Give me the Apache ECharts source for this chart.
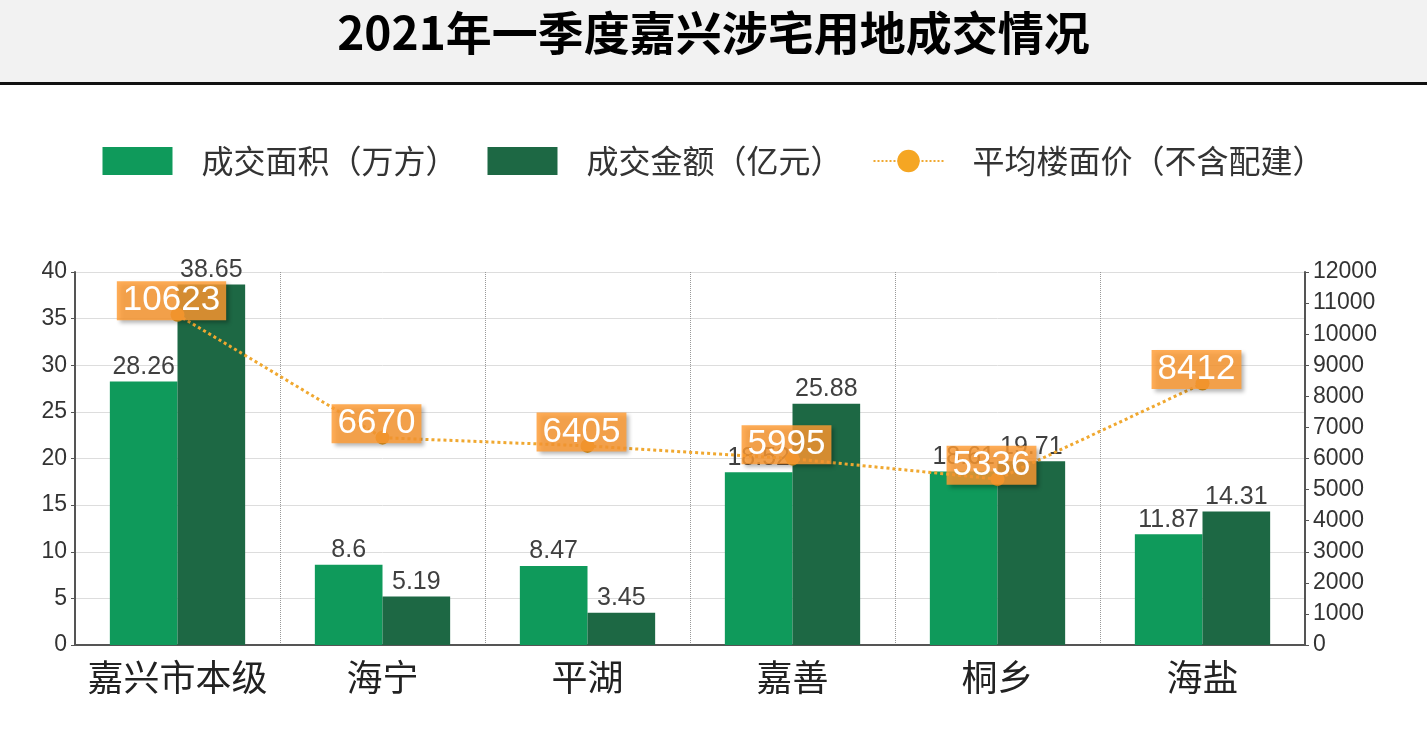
<!DOCTYPE html>
<html><head><meta charset="utf-8">
<script src="https://cdn.jsdelivr.net/npm/echarts@6/dist/echarts.min.js"></script>
<style>html,body{margin:0;padding:0;background:#fff}#c{width:1427px;height:730px}</style>
</head><body><div id="c"></div>
<script>
const categories=['嘉兴市本级','海宁','平湖','嘉善','桐乡','海盐'];
const area=[28.26,8.6,8.47,18.52,18.61,11.87];
const amount=[38.65,5.19,3.45,25.88,19.71,14.31];
const price=[10623,6670,6405,5995,5336,8412];
const chart=echarts.init(document.getElementById('c'));
const lab={show:true,position:'top',color:'#404040',fontSize:25,fontFamily:'"Liberation Sans", Arial',distance:2};
chart.setOption({
  animation:false,
  graphic:[
    {type:'rect',shape:{x:0,y:0,width:1427,height:82},style:{fill:'#f2f2f2'}},
    {type:'rect',shape:{x:0,y:82,width:1427,height:3},style:{fill:'#111'}},
    {type:'text',left:'center',top:10,style:{text:'2021年一季度嘉兴涉宅用地成交情况',font:'bold 46px "Noto Sans CJK SC", Arial',fill:'#000'}}
  ],
  legend:{top:140,left:'center',itemWidth:70,itemHeight:28,itemGap:30,
    textStyle:{fontSize:32,color:'#333',fontFamily:'"Noto Sans CJK SC"',padding:[0,0,0,24]},
    data:[{name:'成交面积（万方）',icon:'rect'},{name:'成交金额（亿元）',icon:'rect'},{name:'平均楼面价（不含配建）'}]},
  grid:{left:75,right:122,top:272,bottom:85},
  xAxis:{type:'category',data:categories,axisTick:{show:false},
    axisLine:{lineStyle:{color:'#555',width:2}},
    axisLabel:{interval:0,fontSize:36,color:'#222',margin:14,fontFamily:'"Noto Sans CJK SC"'},
    splitLine:{show:true,interval:0,lineStyle:{type:'dotted',color:'#999'}}},
  yAxis:[
    {type:'value',min:0,max:40,interval:5,axisLine:{show:true,lineStyle:{color:'#555',width:2}},
     axisTick:{show:true,length:4},axisLabel:{fontSize:23,color:'#333',fontFamily:'"Liberation Sans", Arial'},
     splitLine:{lineStyle:{color:'#ddd'}}},
    {type:'value',min:0,max:12000,interval:1000,axisLine:{show:true,lineStyle:{color:'#555',width:2}},
     axisTick:{show:true,length:4},axisLabel:{fontSize:23,color:'#333',fontFamily:'"Liberation Sans", Arial',formatter:v=>String(v)},
     splitLine:{show:false}}
  ],
  series:[
    {name:'成交面积（万方）',type:'bar',data:area,barGap:'0%',barCategoryGap:'34%',itemStyle:{color:'#0F9A5B'},label:lab},
    {name:'成交金额（亿元）',type:'bar',data:amount,itemStyle:{color:'#1D6844'},label:lab},
    {name:'平均楼面价（不含配建）',type:'line',yAxisIndex:1,data:price,symbol:'circle',symbolSize:14,z:5,
     itemStyle:{color:'#F5A623'},lineStyle:{type:'dotted',width:3,color:'#F0A830'},
     label:{show:true,position:'inside',offset:[-6,-14],color:'#fff',fontSize:35,fontFamily:'"Liberation Sans", Arial',
       backgroundColor:'rgba(255,155,50,0.82)',padding:[3,6,1,6],
       shadowColor:'rgba(0,0,0,0.35)',shadowBlur:4,shadowOffsetX:3,shadowOffsetY:3}}
  ]
});
</script></body></html>
